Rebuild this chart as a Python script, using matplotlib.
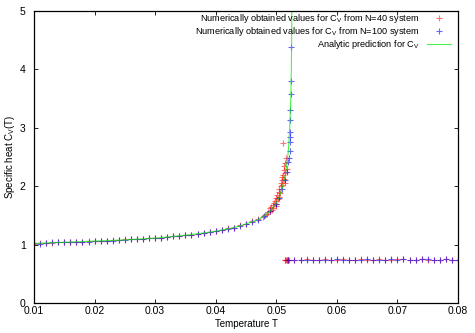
import matplotlib
matplotlib.use("Agg")
import matplotlib.pyplot as plt

plt.rcParams["font.family"] = ["Liberation Sans", "DejaVu Sans"]

# ----------------------------------------------------------------------
# data
# ----------------------------------------------------------------------
# analytic prediction (green line)
t_line = [0.010, 0.015, 0.020, 0.025, 0.030, 0.035, 0.038, 0.040, 0.042,
          0.044, 0.046, 0.047, 0.048, 0.049, 0.050, 0.0505, 0.051, 0.0515,
          0.0518, 0.0520, 0.0522, 0.0524, 0.0525, 0.05255, 0.0526]
cv_line = [1.02, 1.04, 1.06, 1.08, 1.11, 1.16, 1.20, 1.23, 1.27,
           1.32, 1.39, 1.43, 1.49, 1.58, 1.71, 1.82, 1.98, 2.20,
           2.42, 2.62, 2.95, 3.50, 4.10, 4.70, 5.60]

# N=40 system (red)
t_n40 = [0.010, 0.011, 0.012, 0.013, 0.014, 0.015, 0.016, 0.017, 0.018,
         0.019, 0.020, 0.021, 0.022, 0.023, 0.024, 0.025, 0.026, 0.027,
         0.028, 0.029, 0.030, 0.031, 0.032, 0.033, 0.034, 0.035, 0.036,
         0.037, 0.038, 0.039, 0.040, 0.041, 0.042, 0.043, 0.044, 0.045,
         0.046, 0.047,
         0.0478, 0.0482, 0.0485, 0.0487, 0.0489, 0.0490, 0.0492, 0.0493,
         0.0495, 0.0496, 0.0498, 0.0499, 0.0500, 0.0502, 0.0503, 0.0504,
         0.0505, 0.0506, 0.0507, 0.0508, 0.0509, 0.0510, 0.0510, 0.0511,
         0.0512, 0.0512, 0.0513, 0.0514, 0.0515, 0.0516, 0.0511, 0.0500,
         0.0495, 0.0505, 0.0514, 0.0517,
         0.0514, 0.0515, 0.0516, 0.0517, 0.0518, 0.0519, 0.0520, 0.0521,
         0.053, 0.054, 0.055, 0.056, 0.057, 0.058, 0.059, 0.060, 0.061,
         0.062, 0.063, 0.064, 0.065, 0.066, 0.067, 0.068, 0.069, 0.070,
         0.071, 0.072, 0.073, 0.074, 0.075, 0.076, 0.077, 0.078, 0.079,
         0.080]
cv_n40 = [1.01, 1.02, 1.03, 1.03, 1.04, 1.04, 1.05, 1.04, 1.05,
          1.06, 1.06, 1.07, 1.07, 1.08, 1.08, 1.09, 1.09, 1.10,
          1.10, 1.11, 1.12, 1.12, 1.13, 1.14, 1.15, 1.17, 1.17,
          1.18, 1.20, 1.22, 1.23, 1.25, 1.28, 1.29, 1.33, 1.35,
          1.40, 1.44,
          1.47, 1.50, 1.53, 1.55, 1.58, 1.62, 1.64, 1.60,
          1.68, 1.72, 1.75, 1.70, 1.80, 1.85, 1.78, 1.90,
          1.95, 1.88, 2.00, 2.05, 2.10, 2.02, 2.15, 2.20,
          2.12, 2.28, 2.35, 2.22, 2.40, 2.48, 2.74, 1.66,
          1.62, 1.82, 2.05, 2.30,
          0.74, 0.74, 0.74, 0.74, 0.74, 0.74, 0.74, 0.74,
          0.74, 0.74, 0.75, 0.74, 0.74, 0.75, 0.74, 0.74, 0.75,
          0.74, 0.74, 0.75, 0.74, 0.74, 0.75, 0.74, 0.74, 0.75,
          0.75, 0.74, 0.74, 0.75, 0.74, 0.74, 0.74, 0.75, 0.74,
          0.74]

# N=100 system (blue)
t_n100 = [0.010, 0.011, 0.012, 0.013, 0.014, 0.015, 0.016, 0.017, 0.018,
          0.019, 0.020, 0.021, 0.022, 0.023, 0.024, 0.025, 0.026, 0.027,
          0.028, 0.029, 0.030, 0.031, 0.032, 0.033, 0.034, 0.035, 0.036,
          0.037, 0.038, 0.039, 0.040, 0.041, 0.042, 0.043, 0.044, 0.045,
          0.046, 0.047, 0.048, 0.049, 0.050, 0.0505, 0.051,
          0.0515, 0.0518, 0.0520, 0.0521, 0.0522, 0.0522, 0.0522, 0.0523,
          0.0523, 0.0523, 0.0524, 0.0524, 0.0524,
          0.052, 0.053, 0.054, 0.055, 0.056, 0.057, 0.058, 0.059, 0.060,
          0.061, 0.062, 0.063, 0.064, 0.065, 0.066, 0.067, 0.068, 0.069,
          0.070, 0.071, 0.072, 0.073, 0.074, 0.075, 0.076, 0.077, 0.078,
          0.079, 0.080]
cv_n100 = [1.02, 1.01, 1.03, 1.04, 1.04, 1.04, 1.04, 1.05, 1.05,
           1.05, 1.06, 1.06, 1.07, 1.07, 1.08, 1.08, 1.09, 1.09,
           1.10, 1.11, 1.11, 1.12, 1.13, 1.14, 1.15, 1.16, 1.17,
           1.18, 1.20, 1.21, 1.23, 1.25, 1.27, 1.29, 1.32, 1.36,
           1.39, 1.43, 1.49, 1.57, 1.70, 1.80, 1.96,
           2.10, 2.25, 2.42, 2.48, 2.60, 2.75, 2.85, 2.92,
           3.13, 3.30, 3.58, 3.80, 4.38,
           0.74, 0.74, 0.74, 0.74, 0.74, 0.74, 0.74, 0.74, 0.75,
           0.74, 0.74, 0.74, 0.74, 0.75, 0.74, 0.74, 0.74, 0.75,
           0.74, 0.75, 0.74, 0.74, 0.75, 0.75, 0.74, 0.74, 0.75,
           0.74, 0.74]

# ----------------------------------------------------------------------
# plot
# ----------------------------------------------------------------------
fig = plt.figure(figsize=(4.75, 3.33), dpi=100)
ax = fig.add_axes([0.0716, 0.090, 0.8926, 0.877])

ax.plot(t_n40, cv_n40, "+", color="#ff0000", alpha=0.55, markersize=4,
        markeredgewidth=0.8,
        label="Numerically obtained values for C$_\\mathregular{V}$ from N=40 system")
ax.plot(t_n100, cv_n100, "+", color="#0000ff", alpha=0.6, markersize=4,
        markeredgewidth=0.8,
        label="Numerically obtained values for C$_\\mathregular{V}$ from N=100 system")
ax.plot(t_line, cv_line, "-", color="#00ee00", alpha=0.7, linewidth=0.8,
        label="Analytic prediction for C$_\\mathregular{V}$")

ax.set_xlim(0.01, 0.08)
ax.set_ylim(0, 5)
ax.set_xticks([0.01, 0.02, 0.03, 0.04, 0.05, 0.06, 0.07, 0.08])
ax.set_yticks([0, 1, 2, 3, 4, 5])
ax.set_xticklabels(["0.01", "0.02", "0.03", "0.04", "0.05", "0.06", "0.07", "0.08"])
ax.tick_params(direction="in", top=True, right=True, labelsize=7.5,
               length=3, width=0.6, pad=2)
ax.tick_params(axis="y", pad=6)
for s in ax.spines.values():
    s.set_linewidth(0.9)

ax.set_xlabel("Temperature T", fontsize=7, labelpad=2)
ax.set_ylabel("Specific heat C$_\\mathregular{V}$(T)", fontsize=7, labelpad=2)

ax.legend(loc="upper right", frameon=False, fontsize=6.6, markerfirst=False,
          handlelength=2.6, handletextpad=0.8, labelspacing=0.0,
          borderpad=0.0, borderaxespad=0.1, bbox_to_anchor=(0.985, 1.0))
for t in ax.get_legend().get_texts():
    t.set_ha("right")
ax.get_legend()._legend_box.align = "right"

fig.savefig("out.png", dpi=100)
